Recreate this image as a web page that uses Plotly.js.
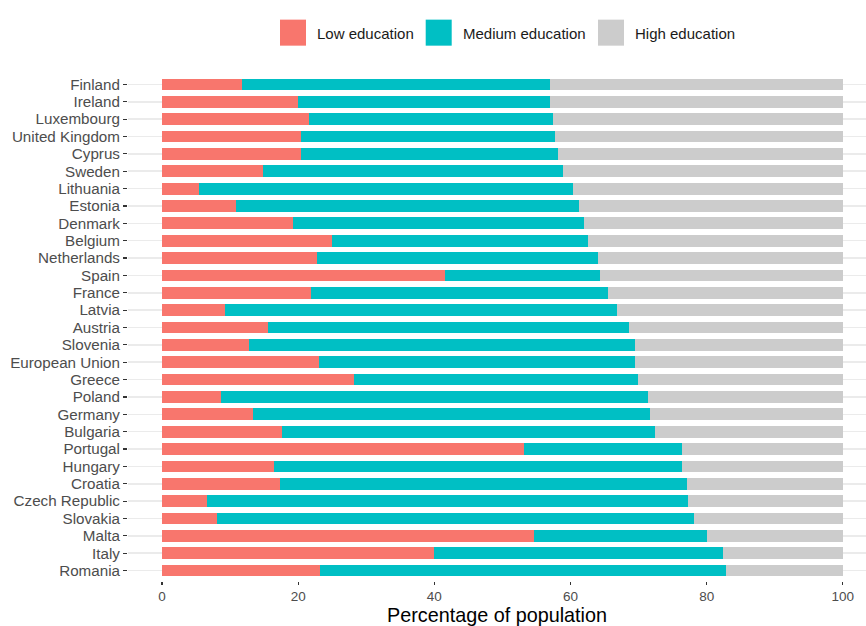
<!DOCTYPE html>
<html>
<head>
<meta charset="utf-8">
<script src="https://cdn.plot.ly/plotly-3.0.1.min.js"></script>
<style>html,body{margin:0;padding:0;background:#fff;}</style>
</head>
<body>
<div id="chart" style="width:866px;height:626px;"></div>
<script>
// Data (values in % of population)
const countries = ["Finland","Ireland","Luxembourg","United Kingdom","Cyprus","Sweden","Lithuania","Estonia","Denmark","Belgium","Netherlands","Spain","France","Latvia","Austria","Slovenia","European Union","Greece","Poland","Germany","Bulgaria","Portugal","Hungary","Croatia","Czech Republic","Slovakia","Malta","Italy","Romania"];
const lowEdu = [11.8,19.9,21.6,20.4,20.4,14.9,5.4,10.9,19.3,24.9,22.8,41.6,21.9,9.3,15.5,12.7,23.1,28.2,8.6,13.4,17.6,53.1,16.5,17.3,6.6,8.0,54.6,39.9,23.2];
// cumulative share of low + medium education
const lowPlusMedium = [57.0,57.0,57.4,57.7,58.1,58.9,60.4,61.2,62.0,62.5,64.0,64.4,65.5,66.8,68.6,69.4,69.4,69.9,71.4,71.7,72.4,76.3,76.3,77.1,77.2,78.1,80.0,82.4,82.8];
const mediumEdu = lowPlusMedium.map((v, i) => +(v - lowEdu[i]).toFixed(1));
const highEdu = lowPlusMedium.map(v => +(100 - v).toFixed(1));
const seriesNames = ["Low education","Medium education","High education"];
const xTicks = [0,20,40,60,80,100];

// Styles
const colors = ["#F8766D","#00BFC4","#CCCCCC"];
const seriesValues = [lowEdu, mediumEdu, highEdu];

const traces = seriesValues.map((vals, k) => ({
  type: "bar",
  orientation: "h",
  name: seriesNames[k],
  y: countries,
  x: vals,
  marker: {color: colors[k], line: {width: 0}},
  showlegend: false,
  hoverinfo: "x+y+name"
}));

// Custom legend (large squares like ggplot)
const plotL = 128, plotW = 738, plotTop = 74.3, plotBot = 580.7, plotH = plotBot - plotTop;
const px2x = p => (p - plotL) / plotW;
const px2y = p => (plotBot - p) / plotH;
const legendBoxes = [280, 425.7, 598];
const shapes = [], annotations = [];
legendBoxes.forEach((bx, k) => {
  shapes.push({type: "rect", xref: "paper", yref: "paper",
    x0: px2x(bx), x1: px2x(bx + 26), y0: px2y(46), y1: px2y(20),
    fillcolor: colors[k], line: {width: 0}});
  annotations.push({xref: "paper", yref: "paper", x: px2x(bx + 35), y: px2y(33.5),
    xanchor: "left", yanchor: "middle", showarrow: false, text: seriesNames[k],
    font: {family: "Liberation Sans, Arial, sans-serif", size: 15, color: "#1a1a1a"}});
});

const layout = {
  width: 866, height: 626,
  margin: {l: plotL, r: 0, t: plotTop, b: 626 - plotBot, pad: 0},
  paper_bgcolor: "#ffffff", plot_bgcolor: "#ffffff",
  barmode: "stack",
  bargap: 0.32,
  font: {family: "Liberation Sans, Arial, sans-serif", color: "#4D4D4D"},
  xaxis: {
    range: [-5, 103.4],
    showgrid: false, zeroline: false, showline: false,
    tickmode: "array", tickvals: xTicks, ticktext: xTicks.map(String),
    ticks: "outside", ticklen: 3, tickwidth: 1.2, tickcolor: "#333333",
    tickfont: {size: 13.5, color: "#4D4D4D"},
    title: {text: "Percentage of population", font: {size: 19.8, color: "#000000"}, standoff: 5}
  },
  yaxis: {
    type: "category",
    categoryorder: "array", categoryarray: countries,
    tickmode: "array", tickvals: countries, ticktext: countries,
    range: [countries.length - 0.4, -0.6],
    showgrid: true, gridcolor: "#EBEBEB", gridwidth: 1.5,
    zeroline: false, showline: false,
    ticks: "outside", ticklen: 4, tickwidth: 1.2, tickcolor: "#333333",
    tickfont: {size: 15.2, color: "#4D4D4D"}
  },
  shapes: shapes,
  annotations: annotations
};

Plotly.newPlot("chart", traces, layout, {staticPlot: true, displayModeBar: false});
</script>
</body>
</html>
